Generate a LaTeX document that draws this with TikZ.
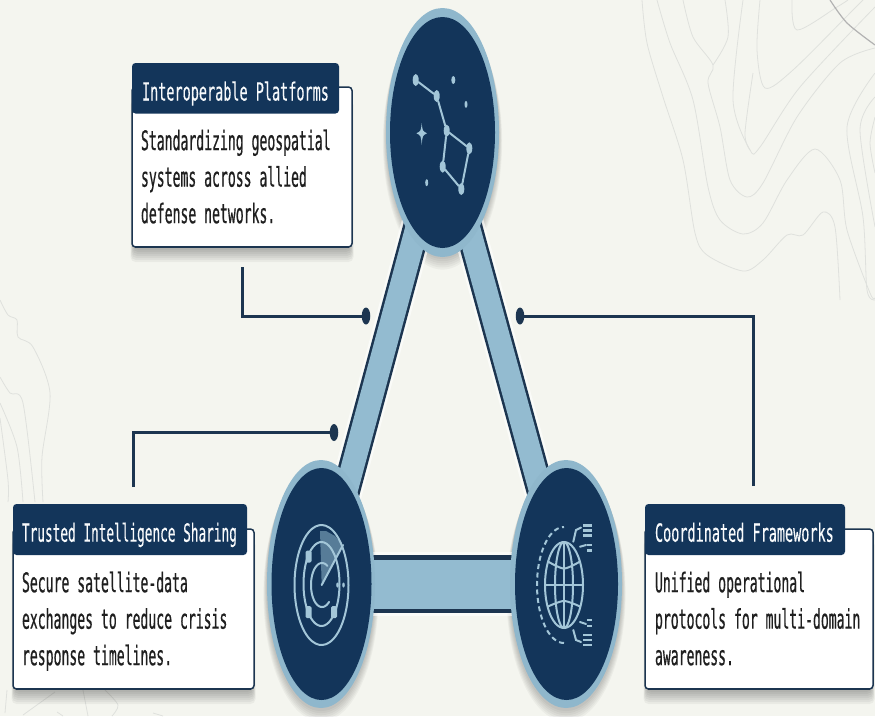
\documentclass[tikz,border=0pt]{standalone}
\usepackage{fontspec}
\usetikzlibrary{shapes.geometric,backgrounds}
\setmainfont{DejaVu Sans}
\newfontfamily\titleA[FakeStretch=0.54,FakeBold=0.25]{DejaVu Sans Mono}
\newfontfamily\titleB[FakeStretch=0.51,FakeBold=0.25]{DejaVu Sans Mono}
\newfontfamily\bodyF[FakeStretch=0.486,FakeBold=0.5]{DejaVu Sans Mono}
\definecolor{pagebg}{HTML}{F4F5EF}
\definecolor{navy}{HTML}{13355A}
\definecolor{edgeline}{HTML}{1C3550}
\definecolor{ringblue}{HTML}{8FB7CC}
\definecolor{barblue}{HTML}{93BBD0}
\definecolor{iconblue}{HTML}{A3C6D8}
\definecolor{topo}{HTML}{DFE1DD}
\tikzset{
  x=1pt,y=-1pt,
  ring/.style={ellipse,fill=ringblue,draw=none,inner sep=0,outer sep=0},
  core/.style={ellipse,fill=navy,draw=none,inner sep=0,outer sep=0},
  cardbox/.style={fill=white,draw=edgeline,line width=1.5pt,rounded corners=3.5pt,anchor=north west,inner sep=0,outer sep=0},
  titlebox/.style={fill=navy,draw=none,rounded corners=3.5pt,anchor=north west,inner sep=0,outer sep=0},
  titletext/.style={text=white!92!iconblue,anchor=base west,inner sep=0,outer sep=0},
  bodytext/.style={text=black!88,anchor=north west,inner sep=0,outer sep=0,align=left,font=\bodyF\fontsize{27}{36.5}\selectfont},
  leader/.style={draw=edgeline,line width=3pt},
  enddot/.style={ellipse,fill=edgeline,inner sep=0,outer sep=0,minimum width=8.5pt,minimum height=17pt},
  topoline/.style={draw=topo,line width=0.8pt},
  icon/.style={draw=iconblue,line width=2pt,line cap=round},
  star/.style={ellipse,fill=iconblue,inner sep=0,outer sep=0,minimum width=6pt,minimum height=12pt},
  smallstar/.style={ellipse,fill=iconblue,inner sep=0,outer sep=0,minimum width=3pt,minimum height=7pt},
}
\newcommand{\earc}[7][]{\draw[icon,#1] plot[domain=#6:#7,samples=50,smooth] ({#2+#4*cos(\x)},{#3+#5*sin(\x)});}
\newcommand{\topotrace}[1]{\draw[topoline] plot[smooth] coordinates {#1};}
\newcommand{\cardshadow}[4]{\foreach \i in {1,...,7}{\fill[black,opacity=.045,rounded corners=5pt] (#1-\i*0.5,#2) rectangle (#3+\i*0.5,#4+1+\i*2);}}
\newcommand{\ringshadow}[4]{\foreach \i in {1,...,6}{\fill[black,opacity=.035] (#1,#2+\i*1.5) ellipse [x radius=#3pt+\i*0.6pt,y radius=#4pt+\i*0.6pt];}}
\begin{document}
\begin{tikzpicture}
\useasboundingbox (0,0) rectangle (875,716);
% rings
\node[ring,minimum width=113pt,minimum height=249pt] (top) at (442.5,132.5) {};
\node[core,minimum width=105pt,minimum height=231pt] (topcore) at (442.5,132.5) {};
\node[ring,minimum width=108pt,minimum height=248pt] (left) at (321,584) {};
\node[core,minimum width=100pt,minimum height=232pt] (leftcore) at (321.5,584) {};
\node[ring,minimum width=112pt,minimum height=248pt] (right) at (566,584) {};
\node[core,minimum width=103pt,minimum height=232pt] (rightcore) at (566.5,584) {};
% constellation
\node[star] (s1) at (415.7,80) {};
\node[star] (s2) at (436.7,96) {};
\node[star] (s3) at (446.7,130.7) {};
\node[star] (s4) at (469.3,148.3) {};
\node[star] (s5) at (442.7,166.7) {};
\node[star] (s6) at (461.3,189) {};
\draw[icon] (s1)--(s2) (s2)--(s3) (s3)--(s4) (s3)--(s5) (s4)--(s6) (s5)--(s6);
\node[smallstar,minimum width=4pt,minimum height=8pt] (d1) at (453.3,80) {};
\node[smallstar] (d2) at (466,104.3) {};
\node[smallstar] (d3) at (426.7,182.7) {};
\fill[iconblue] (421.7,123) .. controls (422.5,131) .. (427,133.3) .. controls (422.5,135.5) .. (421.7,145) .. controls (420.9,135.5) .. (416.4,133.3) .. controls (420.9,131) .. (421.7,123) -- cycle;
% radar
\fill[ringblue,opacity=.55] (321.7,585) -- (320,531) -- (326,531) -- (335,536) -- (343,546) -- cycle;
\earc{321.5}{585}{27}{60}{0}{360}
\earc{321.5}{584}{18}{42}{0}{360}
\earc{322}{585}{11}{22}{50}{300}
\draw[icon] (321.7,585) -- (343,545);
\foreach \a/\b in {308.5/556.5,308.5/612,334/612}{\fill[iconblue,rounded corners=1.5pt] (\a-3,\b-6) rectangle (\a+3,\b+6);}
\fill[iconblue] (337.5,585) ellipse [x radius=1.3pt,y radius=2.5pt];
\fill[iconblue] (343.5,585) ellipse [x radius=1.3pt,y radius=2.5pt];
% globe
\earc{564}{585}{19}{43}{0}{360}
\earc{564}{585}{9}{43}{0}{360}
\draw[icon] (564,542) -- (564,628) (545,585) -- (583,585);
\draw[icon] plot[smooth] coordinates {(548,561.5) (564,568.5) (580,561.5)};
\draw[icon] plot[smooth] coordinates {(548,606.5) (564,601) (580,606.5)};
\earc[dash pattern=on 5pt off 3.5pt,line cap=butt]{564}{585}{27}{58}{90}{270}
\draw[icon] (573.3,541.7) -- (576,530) -- (581,527.5);
\draw[icon] (573.3,630) -- (576,640) -- (581,642);
\draw[icon] (580,546.7) -- (586,545);
\draw[icon] (580,622) -- (586,624);
\foreach \b in {525.5,530.5,535.5,635,640,645}{\draw[iconblue,line width=2.6pt] (583,\b) -- (592,\b);}
\foreach \b in {545,550.5,620,626}{\draw[iconblue,line width=2.4pt] (587,\b) -- (592,\b);}
% cards
\node[cardbox,minimum width=220pt,minimum height=160pt] (card1) at (132,87) {};
\draw[edgeline,line width=2.6pt] ([xshift=3pt]card1.south west) -- ([xshift=-3pt]card1.south east);
\node[titlebox,minimum width=207pt,minimum height=50.5pt] (title1) at (132,63) {};
\node[titletext,font=\titleA\fontsize{25}{28}\selectfont] (title1text) at (142,100.5) {Interoperable Platforms};
\node[bodytext] (body1) at (141,129.5) {Standardizing geospatial\\systems across allied\\defense networks.};
\node[cardbox,minimum width=241pt,minimum height=160pt] (card2) at (13,529) {};
\draw[edgeline,line width=2.6pt] ([xshift=3pt]card2.south west) -- ([xshift=-3pt]card2.south east);
\node[titlebox,minimum width=234pt,minimum height=51pt] (title2) at (13,504) {};
\node[titletext,font=\titleB\fontsize{25}{28}\selectfont] (title2text) at (22,541.7) {Trusted Intelligence Sharing};
\node[bodytext] (body2) at (22,571.5) {Secure satellite-data\\exchanges to reduce crisis\\response timelines.};
\node[cardbox,minimum width=228pt,minimum height=160pt] (card3) at (645,529) {};
\draw[edgeline,line width=2.6pt] ([xshift=3pt]card3.south west) -- ([xshift=-3pt]card3.south east);
\node[titlebox,minimum width=200pt,minimum height=51pt] (title3) at (645,504) {};
\node[titletext,font=\titleA\fontsize{25}{28}\selectfont] (title3text) at (655,541.7) {Coordinated Frameworks};
\node[bodytext] (body3) at (655,571.5) {Unified operational\\protocols for multi-domain\\awareness.};
% leaders
\coordinate (lead1) at (242,267);
\node[enddot] (dot1) at (366,316) {};
\draw[leader] (lead1) |- (dot1);
\coordinate (lead2) at (133,487);
\node[enddot] (dot2) at (334,432.5) {};
\draw[leader] (lead2) |- (dot2);
\coordinate (lead3) at (753.5,486);
\node[enddot] (dot3) at (520,316) {};
\draw[leader] (lead3) |- (dot3);
\begin{scope}[on background layer]
\fill[pagebg] (0,0) rectangle (875,716);
% topographic lines
\topotrace{(642,0) (647,43) (663,97) (683,160) (695,233) (707,255) (743,271) (763,260) (787,235) (803,235) (823,212) (835,227) (840,300)}
\topotrace{(657,0) (670,43) (693,100) (708,187) (720,220) (743,234) (763,223) (787,180) (815,149) (840,180) (847,230) (870,293) (875,298)}
\topotrace{(683,0) (693,37) (713,65) (708,83) (720,127) (730,180) (747,197) (763,183) (797,117) (840,63) (875,48)}
\topotrace{(725,0) (728,37) (713,65)}
\topotrace{(743,0) (733,100) (750,150) (760,147) (800,87) (875,7)}
\topotrace{(760,0) (757,50) (765,88) (793,70) (853,10) (863,0)}
\topotrace{(753,73) (745,133) (750,150)}
\topotrace{(792,0) (797,30) (837,7) (848,0)}
\topotrace{(875,73) (847,127) (863,217) (867,290) (875,300)}
\topotrace{(875,97) (860,130) (875,227)}
\topotrace{(875,117) (870,143) (875,173)}
\topotrace{(0,300) (8,315) (17,320) (18,337) (33,347) (50,393) (42,457) (43,502)}
\topotrace{(0,377) (10,393) (23,403) (35,502)}
\topotrace{(0,403) (17,447) (23,502)}
\topotrace{(0,418) (8,480) (8,502)}
\topotrace{(55,692) (23,715)}
\topotrace{(83,690) (88,716)}
\topotrace{(105,690) (118,705) (112,716)}
\topotrace{(57,712) (63,716)}
\topotrace{(153,713) (163,716)}
\topotrace{(7,690) (5,713)}
\draw[draw=black!30,line width=1.2pt] plot[smooth] coordinates {(830,0) (847,23) (875,45)};
% shadows
\cardshadow{134}{100}{350}{247}
\cardshadow{15}{540}{252}{689}
\cardshadow{647}{540}{871}{689}
\ringshadow{442.5}{133}{56}{124}
\ringshadow{321}{585}{54}{124}
\ringshadow{566}{585}{56}{124}
% struts between the rings
\draw[white,opacity=.6,line width=33pt] (top.center) -- (left.center);
\draw[white,opacity=.6,line width=33pt] (top.center) -- (right.center);
\draw[white,opacity=.6,line width=64pt] (left.center) -- (right.center);
\draw[edgeline,line width=28pt] (top.center) -- (left.center);
\draw[barblue,line width=23pt] (top.center) -- (left.center);
\draw[edgeline,line width=28pt] (top.center) -- (right.center);
\draw[barblue,line width=23pt] (top.center) -- (right.center);
\draw[edgeline,line width=58pt] (left.center) -- (right.center);
\draw[barblue,line width=49pt] (left.center) -- (right.center);
\end{scope}
\end{tikzpicture}
\end{document}
